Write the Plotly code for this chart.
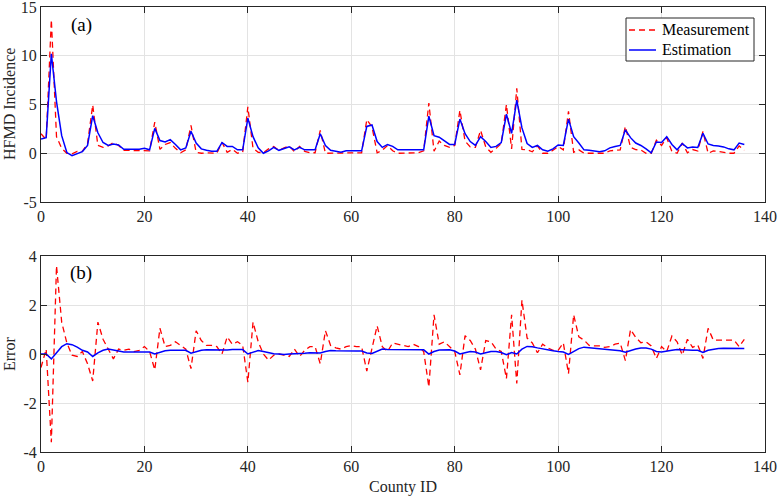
import plotly.graph_objects as go

county_id = list(range(0, 137))

measurement = [
    2.0, 1.4, 13.7, 1.7, 0.5, 0.0, -0.05, 0.2, 0.2, 1.0,
    4.95, 0.8, 0.6, 0.75, 1.1, 0.8, 0.3, 0.3, 0.3, 0.3,
    0.25, 0.25, 3.2, 0.4, 0.9, 1.1, 0.5, 0.05, 0.35, 2.85,
    0.1, 0.0, 0.05, 0.0, 0.0, 1.1, 0.1, 0.4, 0.0, 0.1,
    4.75, 0.5, 0.1, 0.05, 0.45, 0.7, 0.3, 0.55, 0.75, 0.15,
    0.7, 0.2, 0.05, 0.05, 2.35, 0.0, 0.0, 0.0, 0.05, 0.0,
    0.0, 0.0, 0.05, 3.45, 2.7, 0.05, 0.3, 0.8, 0.25, 0.0,
    0.0, 0.05, 0.0, 0.05, 0.25, 5.15, 0.2, 1.25, 0.8, 0.6,
    0.8, 4.4, 1.25, 0.65, 0.6, 2.35, 0.65, 0.1, 0.5, 1.0,
    5.0, 0.45, 6.65, 0.4, 0.35, 0.15, 0.75, 0.0, 0.0, 0.3,
    0.7, 0.35, 4.3, 0.1, 0.35, 0.0, 0.0, 0.0, 0.0, 0.0,
    0.25, 0.3, 0.35, 2.75, 0.6, 0.37, 0.34, 0.0, 0.0, 1.33,
    0.8, 1.6, 0.17, 0.0, 1.04, 0.05, 0.38, 0.23, 2.23, 0.0,
    0.23, 0.18, 0.08, 0.0, 0.0, 0.75, 0.3,
]

estimation = [
    1.45, 1.6, 10.2, 5.3, 1.8, 0.07, -0.25, 0.0, 0.17, 0.8,
    3.85, 2.1, 1.1, 0.8, 0.95, 0.85, 0.4, 0.4, 0.4, 0.4,
    0.5, 0.35, 2.55, 1.3, 1.15, 1.4, 0.9, 0.35, 0.55, 2.25,
    1.05, 0.45, 0.3, 0.2, 0.2, 1.1, 0.7, 0.7, 0.35, 0.35,
    3.6, 1.7, 0.55, 0.0, 0.25, 0.6, 0.3, 0.5, 0.65, 0.35,
    0.6, 0.35, 0.35, 0.35, 2.0, 0.8, 0.3, 0.2, 0.1, 0.25,
    0.25, 0.25, 0.25, 2.75, 2.9, 1.2, 0.6, 0.9, 0.7, 0.35,
    0.35, 0.35, 0.4, 0.35, 0.35, 3.8, 1.8, 1.65, 1.3, 0.9,
    0.9, 3.5, 2.0, 1.2, 0.8, 1.7, 1.2, 0.6, 0.7, 1.1,
    4.0, 2.05, 5.45, 2.6, 1.0, 0.6, 0.8, 0.35, 0.2, 0.45,
    0.85, 0.8, 3.5, 1.7, 1.05, 0.35, 0.3, 0.25, 0.15, 0.25,
    0.55, 0.7, 0.8, 2.4, 1.6, 1.05, 0.8, 0.45, 0.05, 1.15,
    1.1, 1.7, 0.9, 0.35, 1.0, 0.55, 0.65, 0.6, 2.05, 0.95,
    0.8, 0.75, 0.65, 0.45, 0.35, 1.05, 0.9,
]

error_measurement = [
    -0.55, 0.2, -3.6, 3.6, 1.3, 0.45, -0.05, -0.1, 0.1, -0.4,
    -1.1, 1.3, 0.6, 0.2, -0.2, 0.2, 0.15, 0.2, 0.1, 0.15,
    0.3, 0.1, -0.65, 1.05, 0.3, 0.35, 0.5, 0.35, 0.2, -0.6,
    0.95, 0.55, 0.35, 0.35, 0.3, 0.0, 0.7, 0.4, 0.5, 0.35,
    -1.15, 1.3, 0.5, 0.0, -0.25, -0.05, 0.0, -0.05, -0.1, 0.2,
    -0.1, 0.15, 0.3, 0.3, -0.4, 0.95, 0.35, 0.25, 0.2, 0.3,
    0.35, 0.3, 0.3, -0.7, 0.2, 1.15, 0.3, 0.1, 0.45, 0.4,
    0.35, 0.3, 0.4, 0.3, 0.1, -1.35, 1.6, 0.4, 0.5, 0.3,
    0.1, -0.85, 0.75, 0.55, 0.2, -0.65, 0.55, 0.5, 0.2, 0.1,
    -1.0, 1.6, -1.2, 2.2, 0.65, 0.45, 0.05, 0.4, 0.25, 0.15,
    0.15, 0.45, -0.8, 1.6, 0.7, 0.57, 0.35, 0.33, 0.33, 0.27,
    0.3, 0.4, 0.45, -0.27, 1.0, 0.68, 0.46, 0.5, 0.33, -0.18,
    0.3, 0.1, 0.73, 0.5, -0.04, 0.6, 0.27, 0.37, -0.18, 1.05,
    0.57, 0.57, 0.57, 0.57, 0.57, 0.3, 0.6,
]

error_estimation = [
    0.0, 0.0, -0.2, 0.05, 0.3, 0.42, 0.38, 0.28, 0.15, 0.08,
    -0.1, 0.05, 0.15, 0.2, 0.15, 0.1, 0.08, 0.08, 0.08, 0.08,
    0.08, 0.08, 0.0, 0.08, 0.13, 0.15, 0.15, 0.15, 0.15, 0.03,
    0.1, 0.15, 0.17, 0.17, 0.16, 0.14, 0.16, 0.18, 0.19, 0.18,
    0.0, 0.08, 0.14, 0.1, 0.04, 0.01, 0.0, -0.02, 0.0, 0.0,
    0.02, 0.03, 0.05, 0.05, 0.04, 0.1, 0.14, 0.13, 0.12, 0.12,
    0.12, 0.12, 0.12, 0.04, 0.02, 0.12, 0.2, 0.18, 0.18, 0.18,
    0.18, 0.18, 0.18, 0.18, 0.17, 0.0, 0.1, 0.16, 0.18, 0.17,
    0.12, 0.0, 0.05, 0.1, 0.08, 0.0, 0.05, 0.1, 0.1, 0.06,
    -0.03, 0.06, 0.0, 0.2, 0.31, 0.3, 0.25, 0.2, 0.16, 0.13,
    0.1, 0.08, -0.02, 0.1, 0.22, 0.28, 0.26, 0.22, 0.19, 0.17,
    0.15, 0.14, 0.13, 0.07, 0.14, 0.2, 0.24, 0.24, 0.2, 0.1,
    0.08, 0.1, 0.15, 0.18, 0.16, 0.15, 0.15, 0.15, 0.06, 0.15,
    0.2, 0.22, 0.23, 0.23, 0.23, 0.22, 0.22,
]

x_ticks = [0, 20, 40, 60, 80, 100, 120, 140]
y_ticks_top = [-5, 0, 5, 10, 15]
y_ticks_bottom = [-4, -2, 0, 2, 4]
legend_labels = ["Measurement", "Estimation"]

RED = "#ff0000"
BLUE = "#0000ff"
INK = "#262626"
FONT = "Liberation Serif"
DASH = "6px,4px"

W, H = 778, 497
L, R, T, B = 41, 13, 7, 45
PW, PH = W - L - R, H - T - B


def px(xp):
    return (xp - L) / PW


def py(yp):
    return (H - B - yp) / PH


fig = go.Figure()
fig.add_trace(go.Scatter(x=county_id, y=measurement, mode="lines", name=legend_labels[0],
                         line=dict(color=RED, width=1.3, dash=DASH), xaxis="x", yaxis="y"))
fig.add_trace(go.Scatter(x=county_id, y=estimation, mode="lines", name=legend_labels[1],
                         line=dict(color=BLUE, width=1.5), xaxis="x", yaxis="y"))
fig.add_trace(go.Scatter(x=county_id, y=error_measurement, mode="lines",
                         line=dict(color=RED, width=1.3, dash=DASH), xaxis="x2", yaxis="y2"))
fig.add_trace(go.Scatter(x=county_id, y=error_estimation, mode="lines",
                         line=dict(color=BLUE, width=1.5), xaxis="x2", yaxis="y2"))

axis_common = dict(
    showline=True, linecolor=INK, linewidth=1, mirror="ticks",
    ticks="inside", ticklen=6, tickcolor=INK,
    showgrid=True, gridcolor="#e3e3e3", gridwidth=1, zeroline=False,
    automargin=False, ticklabeloverflow="allow",
    tickfont=dict(family=FONT, size=16, color=INK),
)


def labels(vals):
    return [str(v) for v in vals]


shapes = [
    dict(type="rect", xref="paper", yref="paper", x0=px(626), x1=px(754), y0=py(61), y1=py(18),
         line=dict(color=INK, width=1), fillcolor="white", layer="above"),
    dict(type="line", xref="paper", yref="paper", x0=px(629), x1=px(656), y0=py(30), y1=py(30),
         line=dict(color=RED, width=1.3, dash=DASH), layer="above"),
    dict(type="line", xref="paper", yref="paper", x0=px(629), x1=px(656), y0=py(50), y1=py(50),
         line=dict(color=BLUE, width=1.5), layer="above"),
]

annotations = [
    dict(text="(a)", x=px(81), y=py(25), xref="paper", yref="paper", showarrow=False,
         xanchor="center", yanchor="middle", font=dict(family=FONT, size=19, color="black")),
    dict(text="(b)", x=px(81), y=py(273), xref="paper", yref="paper", showarrow=False,
         xanchor="center", yanchor="middle", font=dict(family=FONT, size=19, color="black")),
    dict(text="HFMD Incidence", x=px(9), y=py(104), xref="paper", yref="paper", showarrow=False,
         textangle=-90, xanchor="center", yanchor="middle", font=dict(family=FONT, size=16, color=INK)),
    dict(text="Error", x=px(9), y=py(354), xref="paper", yref="paper", showarrow=False,
         textangle=-90, xanchor="center", yanchor="middle", font=dict(family=FONT, size=16, color=INK)),
    dict(text="County ID", x=px(403), y=py(487), xref="paper", yref="paper", showarrow=False,
         xanchor="center", yanchor="middle", font=dict(family=FONT, size=16, color=INK)),
    dict(text=legend_labels[0], x=px(660), y=py(30), xref="paper", yref="paper", showarrow=False,
         xanchor="left", yanchor="middle", font=dict(family=FONT, size=16, color="black")),
    dict(text=legend_labels[1], x=px(660), y=py(50), xref="paper", yref="paper", showarrow=False,
         xanchor="left", yanchor="middle", font=dict(family=FONT, size=16, color="black")),
]

fig.update_layout(
    width=W, height=H,
    margin=dict(l=L, r=R, t=T, b=B, autoexpand=False),
    paper_bgcolor="white", plot_bgcolor="white",
    font=dict(family=FONT, size=16, color=INK),
    showlegend=False,
    xaxis=dict(domain=[0, 1], range=[0, 140], tickvals=x_ticks, ticktext=labels(x_ticks),
               anchor="y", **axis_common),
    yaxis=dict(domain=[py(202), 1], range=[-5, 15], tickvals=y_ticks_top,
               ticktext=labels(y_ticks_top), anchor="x", **axis_common),
    xaxis2=dict(domain=[0, 1], range=[0, 140], tickvals=x_ticks, ticktext=labels(x_ticks),
                anchor="y2", **axis_common),
    yaxis2=dict(domain=[0, py(256)], range=[-4, 4], tickvals=y_ticks_bottom,
                ticktext=labels(y_ticks_bottom), anchor="x2", **axis_common),
    shapes=shapes,
    annotations=annotations,
)

fig.write_html("out.html", config={"displayModeBar": False},
               post_script="document.body.style.margin='0px';")
